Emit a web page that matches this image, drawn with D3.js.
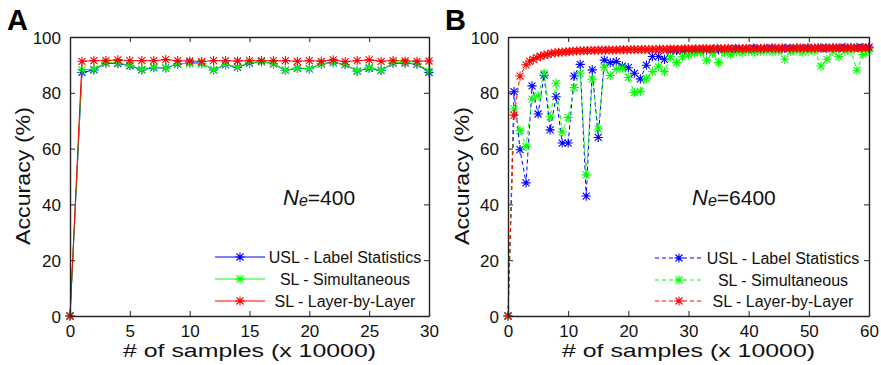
<!DOCTYPE html>
<html>
<head>
<meta charset="utf-8">
<script src="https://cdn.jsdelivr.net/npm/d3@7"></script>
<style>
  body { margin: 0; background: #fff; }
  svg { display: block; font-family: "Liberation Sans", Arial, sans-serif; }
</style>
</head>
<body>
<div id="chart"></div>
<script>
// ---- data ----
const SERIES_NAMES = ['USL - Label Statistics', 'SL - Simultaneous', 'SL - Layer-by-Layer'];
const SERIES_COLORS = ['#0000ff', '#00ff00', '#ff0000'];

// panel A: Ne = 400, samples 0..30 (x 10000)
const xA = d3.range(0, 31);
const blueA = [0, 87.3, 88.2, 90.6, 90.5, 89.7, 88.2, 89.0, 88.9, 90.3, 90.7, 90.6, 88.2, 90.0, 89.1, 90.6,
  91.2, 90.4, 88.0, 88.8, 88.6, 90.4, 90.9, 90.1, 87.8, 88.8, 88.0, 90.6, 90.6, 90.3, 87.3];
const greenA = [0, 88.2, 88.5, 90.8, 90.7, 89.9, 88.4, 89.2, 88.9, 90.5, 90.5, 90.4, 88.3, 90.1, 89.3, 90.8,
  91.1, 90.5, 88.1, 88.9, 88.7, 90.5, 90.7, 90.2, 87.9, 89.0, 88.1, 90.8, 90.8, 90.5, 87.8];
const redA = [0, 91.3, 91.5, 91.5, 91.8, 91.5, 91.5, 91.5, 91.9, 91.5, 91.4, 91.2, 91.5, 91.5, 91.4, 91.5,
  91.5, 91.5, 91.5, 91.3, 91.5, 91.3, 91.8, 91.2, 91.5, 91.8, 91.3, 91.5, 91.4, 91.3, 91.4];

// panel B: Ne = 6400, samples 0..60 (x 10000)
const xB = d3.range(0, 61);
const blueB = [0, 80.4, 59.6, 47.7, 82.5, 72.4, 86.3, 66.7, 78.6, 62.0, 62.0, 86.0, 90.2, 43.0, 88.2, 64.0,
  91.7, 90.8, 91.2, 89.6, 89.0, 87.0, 85.0, 89.9, 93.0, 93.0, 92.0,
  94.9, 95.1, 95.0, 95.3, 95.2, 95.4, 95.3, 95.5, 95.4, 95.6, 95.5, 95.7, 95.6, 95.6, 95.8, 95.6, 95.8,
  95.9, 95.7, 95.9, 95.8, 96.0, 95.8, 96.0, 95.9, 96.1, 95.9, 96.1, 96.0, 96.3, 96.1, 96.3, 96.2, 96.4];
const greenB = [0, 74.2, 66.4, 60.8, 77.7, 78.9, 87.0, 71.4, 83.4, 66.0, 71.2, 81.9, 87.0, 50.6, 84.9, 67.0,
  89.2, 86.2, 88.4, 88.8, 85.5, 80.1, 80.5, 85.2, 87.6, 89.3, 87.6, 92.9, 90.8, 92.9, 93.6,
  94.2, 94.6, 91.7, 94.3, 90.8, 94.5, 93.8, 94.7, 94.4, 94.9, 94.6, 94.8, 95.0, 94.7, 94.9, 92.0, 94.8,
  95.1, 94.6, 94.9, 95.0, 89.6, 92.0, 94.8, 93.0, 94.9, 95.1, 88.1, 93.7, 95.0];
// red is sampled more densely: 0,1,2,3 then every 0.6
const xRedB = [0, 1, 2, 3].concat(d3.range(3.6, 60.001, 0.6));
const redB = [0, 72, 86, 90,
  91.3, 92.0, 92.6, 93.1, 93.5, 93.8, 94.1, 94.3, 94.5, 94.6,
  94.7, 94.8, 94.9, 95.0, 95.0, 95.1, 95.1, 95.2, 95.2, 95.3,
  95.3, 95.3, 95.4, 95.3, 95.4, 95.4, 95.5, 95.4, 95.5, 95.5,
  95.5, 95.6, 95.5, 95.6, 95.6, 95.5, 95.7, 95.6, 95.6, 95.7,
  95.7, 95.6, 95.7, 95.8, 95.7, 95.7, 95.8, 95.7, 95.8, 95.8,
  95.7, 95.8, 95.9, 95.8, 95.8, 95.9, 95.8, 95.9, 95.9, 95.8,
  95.9, 95.9, 96.0, 95.9, 95.9, 96.0, 95.9, 96.0, 96.0, 95.9,
  96.0, 96.0, 95.9, 96.0, 96.1, 96.0, 96.0, 96.1, 96.0, 96.0,
  96.1, 96.0, 96.1, 96.1, 96.0, 96.1, 96.1, 96.0, 96.1, 96.1,
  96.1, 96.0, 96.1, 96.1, 96.1];

const Y_TICKS = [0, 20, 40, 60, 80, 100];
const X_TICKS_A = [0, 5, 10, 15, 20, 25, 30];
const X_TICKS_B = [0, 10, 20, 30, 40, 50, 60];

// ---- layout ----
const WIDTH = 881, HEIGHT = 365;
const PLOT_TOP = 37, PLOT_BOTTOM = 316;

const svg = d3.select('#chart').append('svg')
  .attr('width', WIDTH)
  .attr('height', HEIGHT);

function asterisk(g, x, y, color) {
  const r = 4.6, d = 3.5;
  g.append('path')
    .attr('d', `M${x - r},${y}H${x + r}M${x},${y - r}V${y + r}` +
      `M${x - d},${y - d}L${x + d},${y + d}M${x - d},${y + d}L${x + d},${y - d}`)
    .attr('stroke', color)
    .attr('stroke-width', 1.1)
    .attr('fill', 'none');
}

function drawPanel(opt) {
  const x = d3.scaleLinear().domain(opt.xDomain).range([opt.left, opt.right]);
  const y = d3.scaleLinear().domain([0, 100]).range([PLOT_BOTTOM, PLOT_TOP]);
  const g = svg.append('g');

  // series
  opt.series.forEach(function (s, i) {
    const pts = s.x.map(function (d, j) { return [d, s.y[j]]; });
    g.append('path')
      .datum(pts)
      .attr('fill', 'none')
      .attr('stroke', SERIES_COLORS[i])
      .attr('stroke-width', 1)
      .attr('stroke-dasharray', opt.dashed ? '4,3' : null)
      .attr('d', d3.line().x(function (d) { return x(d[0]); }).y(function (d) { return y(d[1]); }));
    const mg = g.append('g');
    pts.forEach(function (d) { asterisk(mg, x(d[0]), y(d[1]), SERIES_COLORS[i]); });
  });

  // axes: inward ticks on all four sides (matlab style box)
  const tickLen = 5;
  const bottom = g.append('g')
    .attr('transform', 'translate(0,' + PLOT_BOTTOM + ')')
    .call(d3.axisBottom(x).tickValues(opt.xTicks).tickSizeInner(-tickLen).tickSizeOuter(0).tickPadding(10));
  const top = g.append('g')
    .attr('transform', 'translate(0,' + PLOT_TOP + ')')
    .call(d3.axisTop(x).tickValues(opt.xTicks).tickSizeInner(-tickLen).tickSizeOuter(0).tickFormat(''));
  const left = g.append('g')
    .attr('transform', 'translate(' + opt.left + ',0)')
    .call(d3.axisLeft(y).tickValues(Y_TICKS).tickSizeInner(-tickLen).tickSizeOuter(0).tickPadding(9));
  const right = g.append('g')
    .attr('transform', 'translate(' + opt.right + ',0)')
    .call(d3.axisRight(y).tickValues(Y_TICKS).tickSizeInner(-tickLen).tickSizeOuter(0).tickFormat(''));
  [bottom, top, left, right].forEach(function (a) {
    a.select('.domain').attr('stroke', '#222').attr('stroke-width', 1.4);
    a.selectAll('.tick line').attr('stroke', '#222').attr('stroke-width', 1);
    a.selectAll('.tick text')
      .attr('fill', '#111')
      .style('font-size', '17px')
      .style('font-family', '"Liberation Sans", Arial, sans-serif');
  });
  left.selectAll('.tick text').attr('dy', '0.36em');
  bottom.selectAll('.tick text').attr('dy', '0.62em');

  // axis titles
  svg.append('text')
    .attr('x', (opt.left + opt.right) / 2)
    .attr('y', 357)
    .attr('text-anchor', 'middle')
    .attr('textLength', 253)
    .attr('lengthAdjust', 'spacingAndGlyphs')
    .style('font-size', '19px')
    .attr('fill', '#111')
    .text('# of samples (x 10000)');
  svg.append('text')
    .attr('transform', 'translate(' + opt.yTitleX + ',176) rotate(-90)')
    .attr('text-anchor', 'middle')
    .attr('textLength', 138)
    .attr('lengthAdjust', 'spacingAndGlyphs')
    .style('font-size', '21px')
    .attr('fill', '#111')
    .text('Accuracy (%)');

  // panel letter
  svg.append('text')
    .attr('x', opt.letterX)
    .attr('y', 30)
    .style('font-size', '29px')
    .style('font-weight', 'bold')
    .attr('fill', '#000')
    .text(opt.letter);

  // Ne annotation
  const ne = svg.append('text')
    .attr('x', opt.neX)
    .attr('y', 205)
    .attr('fill', '#111');
  ne.append('tspan').style('font-size', '22px').style('font-style', 'italic').text('N');
  ne.append('tspan').style('font-size', '16px').style('font-style', 'italic').attr('dy', 1).text('e');
  ne.append('tspan').style('font-size', '21px').attr('dy', -1).text('=' + opt.ne);

  // legend
  const lg = svg.append('g');
  SERIES_NAMES.forEach(function (name, i) {
    const ly = opt.legendY[i];
    lg.append('line')
      .attr('x1', opt.legendLine[0]).attr('x2', opt.legendLine[1])
      .attr('y1', ly).attr('y2', ly)
      .attr('stroke', SERIES_COLORS[i])
      .attr('stroke-width', 1)
      .attr('stroke-dasharray', opt.dashed ? '4,3' : null);
    asterisk(lg, (opt.legendLine[0] + opt.legendLine[1]) / 2, ly, SERIES_COLORS[i]);
    lg.append('text')
      .attr('x', opt.legendTextX)
      .attr('y', ly)
      .attr('dy', '0.36em')
      .attr('text-anchor', 'middle')
      .style('font-size', '16px')
      .attr('fill', '#111')
      .text(name);
  });
}

drawPanel({
  letter: 'A', letterX: 7, yTitleX: 30,
  left: 70, right: 429, xDomain: [0, 30], xTicks: X_TICKS_A, dashed: false,
  series: [{x: xA, y: blueA}, {x: xA, y: greenA}, {x: xA, y: redA}],
  neX: 283, ne: '400',
  legendY: [257, 279, 301], legendLine: [215, 265], legendTextX: 345
});

drawPanel({
  letter: 'B', letterX: 445, yTitleX: 469,
  left: 508, right: 869, xDomain: [0, 60], xTicks: X_TICKS_B, dashed: true,
  series: [{x: xB, y: blueB}, {x: xB, y: greenB}, {x: xRedB, y: redB}],
  neX: 692, ne: '6400',
  legendY: [258, 280, 301], legendLine: [655, 703], legendTextX: 783
});
</script>
</body>
</html>
